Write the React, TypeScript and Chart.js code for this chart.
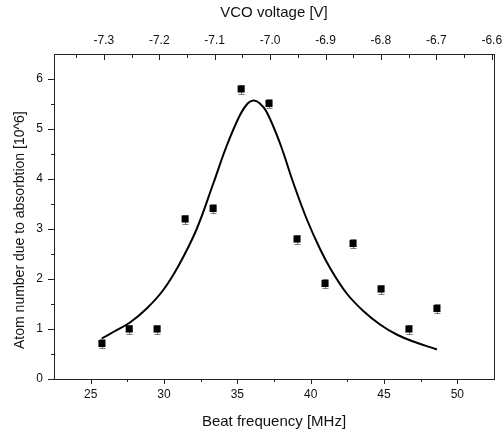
import { useEffect, useRef } from 'react';
import { Chart, registerables } from 'chart.js';

Chart.register(...registerables);

// Measured data (beat frequency in MHz, atom number in 10^6)
const beatFreq = [25.77, 27.63, 29.53, 31.44, 33.35, 35.26, 37.16, 39.07, 40.98, 42.89, 44.8, 46.7, 48.61];
const atomNumber = [0.71, 1.0, 1.0, 3.2, 3.41, 5.8, 5.51, 2.8, 1.91, 2.71, 1.8, 1.0, 1.41];
const atomError = [0.09, 0.09, 0.09, 0.09, 0.09, 0.09, 0.09, 0.09, 0.09, 0.09, 0.09, 0.09, 0.09];

// Fit curve
const fitFreq = [25.75, 26.6, 27.68, 28.82, 29.95, 31.0, 32.2, 33.36, 34.27, 35.18, 35.7, 36.09, 36.5, 37.0, 37.9, 38.82, 39.73, 40.64, 41.4, 42.46, 43.59, 44.73, 45.86, 47.0, 48.61];
const fitAtom = [0.81, 0.95, 1.13, 1.41, 1.78, 2.27, 2.98, 3.91, 4.66, 5.28, 5.51, 5.57, 5.52, 5.34, 4.72, 3.92, 3.2, 2.6, 2.18, 1.71, 1.36, 1.09, 0.89, 0.75, 0.59];

// Axis ticks
const freqTicks = [25, 30, 35, 40, 45, 50];
const atomTicks = [0, 1, 2, 3, 4, 5, 6];
const vcoTicks = [-7.3, -7.2, -7.1, -7.0, -6.9, -6.8, -6.7, -6.6];

const AXIS_COLOR = '#222';

const decor = {
  id: 'decor',
  beforeDatasetsDraw(chart: any) {
    const { ctx, scales } = chart;
    const x = scales.x;
    const y = scales.y;
    ctx.save();
    ctx.strokeStyle = '#7a7a7a';
    ctx.lineWidth = 1;
    beatFreq.forEach((f, i) => {
      const px = Math.round(x.getPixelForValue(f)) + 0.5;
      const t = Math.round(y.getPixelForValue(atomNumber[i] + atomError[i])) + 0.5;
      const b = Math.round(y.getPixelForValue(atomNumber[i] - atomError[i])) + 0.5;
      ctx.beginPath();
      ctx.moveTo(px, t);
      ctx.lineTo(px, b);
      ctx.moveTo(px - 3, t);
      ctx.lineTo(px + 3, t);
      ctx.moveTo(px - 3, b);
      ctx.lineTo(px + 3, b);
      ctx.stroke();
    });
    ctx.restore();
  },
  afterDraw(chart: any) {
    const { ctx, chartArea, scales } = chart;
    const { left, right, top, bottom } = chartArea;
    ctx.save();
    ctx.strokeStyle = AXIS_COLOR;
    ctx.lineWidth = 1;
    ctx.beginPath();
    // right border
    ctx.moveTo(Math.round(right) + 0.5, top);
    ctx.lineTo(Math.round(right) + 0.5, bottom);
    const inside = (p: number, a: number, b: number) => p > a + 1 && p < b - 1;
    // bottom axis
    const x = scales.x;
    freqTicks.forEach((v, i) => {
      const p = Math.round(x.getPixelForValue(v)) + 0.5;
      ctx.moveTo(p, bottom);
      ctx.lineTo(p, bottom + 5);
      const m = x.getPixelForValue(v + 2.5);
      const mp = Math.round(m) + 0.5;
      if (inside(m, left, right)) {
        ctx.moveTo(mp, bottom);
        ctx.lineTo(mp, bottom + 3);
      }
      if (i === 0) {
        const m0 = x.getPixelForValue(v - 2.5);
        if (inside(m0, left, right)) {
          ctx.moveTo(Math.round(m0) + 0.5, bottom);
          ctx.lineTo(Math.round(m0) + 0.5, bottom + 3);
        }
      }
    });
    // left axis
    const y = scales.y;
    atomTicks.forEach((v) => {
      const p = Math.round(y.getPixelForValue(v)) + 0.5;
      ctx.moveTo(left - 6, p);
      ctx.lineTo(left, p);
      const m = y.getPixelForValue(v + 0.5);
      if (inside(m, top, bottom)) {
        ctx.moveTo(left - 3, Math.round(m) + 0.5);
        ctx.lineTo(left, Math.round(m) + 0.5);
      }
    });
    // top axis (ticks inward)
    const x2 = scales.x2;
    vcoTicks.forEach((v, i) => {
      const p = Math.round(x2.getPixelForValue(v)) + 0.5;
      ctx.moveTo(p, top);
      ctx.lineTo(p, top + 6);
      const m = x2.getPixelForValue(v + 0.05);
      if (inside(m, left, right)) {
        ctx.moveTo(Math.round(m) + 0.5, top);
        ctx.lineTo(Math.round(m) + 0.5, top + 4);
      }
      if (i === 0) {
        const m0 = x2.getPixelForValue(v - 0.05);
        if (inside(m0, left, right)) {
          ctx.moveTo(Math.round(m0) + 0.5, top);
          ctx.lineTo(Math.round(m0) + 0.5, top + 4);
        }
      }
    });
    ctx.stroke();
    ctx.restore();
  },
};

export default function App() {
  const ref = useRef<HTMLCanvasElement | null>(null);

  useEffect(() => {
    if (!ref.current) return;
    Chart.defaults.font.family = "'Liberation Sans', Arial, sans-serif";
    Chart.defaults.color = '#111';

    const scatterData = beatFreq.map((f, i) => ({ x: f, y: atomNumber[i] }));
    const fitData = fitFreq.map((f, i) => ({ x: f, y: fitAtom[i] }));

    const chart = new Chart(ref.current, {
      type: 'scatter',
      data: {
        datasets: [
          {
            type: 'line',
            label: 'Fit',
            data: fitData,
            borderColor: '#000',
            borderWidth: 2,
            pointRadius: 0,
            fill: false,
            tension: 0.4,
            xAxisID: 'x',
            yAxisID: 'y',
          } as any,
          {
            type: 'scatter',
            label: 'Data',
            data: scatterData,
            backgroundColor: '#000',
            borderColor: '#000',
            borderWidth: 0,
            pointStyle: 'rect',
            pointRadius: 5,
            xAxisID: 'x',
            yAxisID: 'y',
          } as any,
        ],
      },
      options: {
        animation: false,
        responsive: true,
        maintainAspectRatio: false,
        layout: { padding: { left: 0, right: 8, top: 0, bottom: 0 } },
        plugins: {
          legend: { display: false },
          tooltip: { enabled: false },
        },
        scales: {
          x: {
            type: 'linear',
            position: 'bottom',
            min: 22.5,
            max: 52.5,
            afterBuildTicks: (s: any) => {
              s.ticks = freqTicks.map((v) => ({ value: v }));
            },
            afterFit: (s: any) => {
              s.height = 56;
              s.paddingLeft = 0;
              s.paddingRight = 0;
            },
            ticks: {
              padding: 3,
              font: { size: 12 },
              color: '#111',
              maxRotation: 0,
              autoSkip: false,
              callback: (v: any) => String(v),
            },
            grid: {
              display: true,
              drawOnChartArea: false,
              drawTicks: true,
              tickLength: 5,
              tickColor: 'rgba(0,0,0,0)',
            },
            border: { display: true, color: AXIS_COLOR, width: 1 },
            title: {
              display: true,
              text: 'Beat frequency [MHz]',
              font: { size: 15 },
              color: '#111',
              padding: { top: 0, bottom: 4 },
            },
          },
          x2: {
            type: 'linear',
            position: 'top',
            min: -7.39,
            max: -6.596,
            afterBuildTicks: (s: any) => {
              s.ticks = vcoTicks.map((v) => ({ value: v }));
            },
            afterFit: (s: any) => {
              s.height = 54;
              s.paddingLeft = 0;
              s.paddingRight = 0;
            },
            ticks: {
              padding: 6,
              font: { size: 12 },
              color: '#111',
              maxRotation: 0,
              autoSkip: false,
              callback: (v: any) => Number(v).toFixed(1),
            },
            grid: {
              display: true,
              drawOnChartArea: false,
              drawTicks: false,
            },
            border: { display: true, color: AXIS_COLOR, width: 1 },
            title: {
              display: true,
              text: 'VCO voltage [V]',
              font: { size: 15 },
              color: '#111',
              padding: { top: 4, bottom: 0 },
            },
          },
          y: {
            type: 'linear',
            position: 'left',
            min: 0,
            max: 6.5,
            afterBuildTicks: (s: any) => {
              s.ticks = atomTicks.map((v) => ({ value: v }));
            },
            afterFit: (s: any) => {
              s.width = 54;
              s.paddingTop = 0;
              s.paddingBottom = 0;
            },
            ticks: {
              padding: 5,
              font: { size: 12 },
              color: '#111',
              autoSkip: false,
              callback: (v: any) => String(v),
            },
            grid: {
              display: true,
              drawOnChartArea: false,
              drawTicks: true,
              tickLength: 6,
              tickColor: 'rgba(0,0,0,0)',
            },
            border: { display: true, color: AXIS_COLOR, width: 1 },
            title: {
              display: true,
              text: 'Atom number due to absorbtion [10^6]       ',
              font: { size: 14 },
              color: '#111',
              padding: { top: 12, bottom: 0 },
            },
          },
        },
      } as any,
      plugins: [decor],
    });

    return () => chart.destroy();
  }, []);

  return (
    <div style={{ position: 'absolute', left: 0, top: 0, width: 502, height: 435 }}>
      <canvas ref={ref} />
    </div>
  );
}
